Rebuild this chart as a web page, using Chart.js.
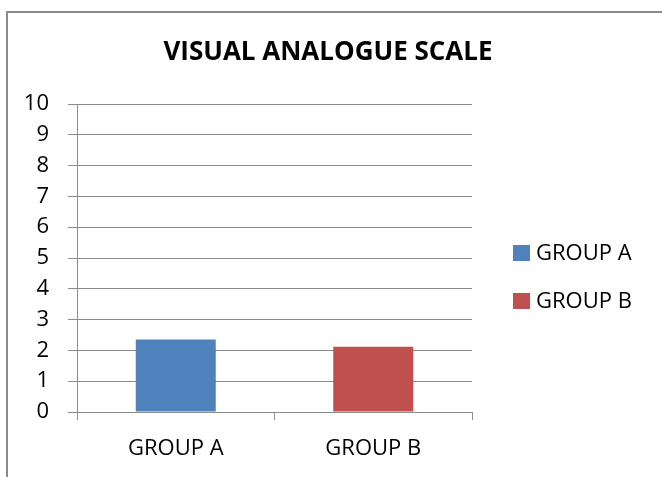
<!DOCTYPE html>
<html>
<head>
<meta charset="utf-8">
<script src="https://cdn.jsdelivr.net/npm/chart.js@4"></script>
<style>
  html, body { margin: 0; padding: 0; background: #fff; }
  #wrap { position: relative; width: 662px; height: 477px; overflow: hidden; }
  #frame { position: absolute; left: 6px; top: 11px; width: 700px; height: 500px;
           border-left: 2px solid #8a8a8a; border-top: 2px solid #8a8a8a; pointer-events: none; }
  canvas { position: absolute; left: 0; top: 0; }
</style>
</head>
<body>
<div id="wrap">
  <canvas id="c" width="662" height="477"></canvas>
  <div id="frame"></div>
</div>
<script>
const titleText = "VISUAL ANALOGUE SCALE";
const categories = ["GROUP A", "GROUP B"];
const vasValues = [2.35, 2.12];
const barColors = ["#4F81BD", "#C0504D"];
const yTicks = [0, 1, 2, 3, 4, 5, 6, 7, 8, 9, 10];

const FONT = "'Open Sans', sans-serif";
const GRID = "#8c8c8c";

const decorPlugin = {
  id: "decor",
  afterDraw(chart) {
    const ctx = chart.ctx;
    const ds = chart.data.datasets[0];
    ctx.save();
    // title
    ctx.font = "bold 26px " + FONT;
    ctx.textBaseline = "middle";
    ctx.textAlign = "center";
    ctx.fillStyle = "#000";
    ctx.fillText(chart.options.plugins.decor.title, 328, 53);
    // legend
    ctx.font = "22px " + FONT;
    ctx.textAlign = "left";
    chart.data.labels.forEach((lab, i) => {
      const cy = 253 + i * 48;
      ctx.fillStyle = ds.backgroundColor[i];
      ctx.fillRect(513, cy - 8, 17, 16);
      ctx.fillStyle = "#000";
      ctx.fillText(lab, 536, cy + 1);
    });
    ctx.restore();
  }
};

new Chart(document.getElementById("c"), {
  type: "bar",
  data: {
    labels: categories,
    datasets: [{
      label: titleText,
      data: vasValues,
      backgroundColor: barColors,
      borderWidth: 0,
      categoryPercentage: 1,
      barPercentage: 0.405
    }]
  },
  options: {
    responsive: false,
    animation: false,
    devicePixelRatio: 1,
    layout: { padding: { left: 0, right: 190, top: 104, bottom: 0 } },
    plugins: {
      legend: { display: false },
      tooltip: { enabled: false },
      title: { display: false },
      decor: { title: titleText }
    },
    scales: {
      x: {
        offset: true,
        grid: { offset: true, drawOnChartArea: false, drawTicks: true, tickLength: 8, color: GRID, lineWidth: 1 },
        border: { display: true, color: GRID, width: 1 },
        ticks: { color: "#000", font: { family: FONT, size: 22 }, padding: 16, maxRotation: 0 },
        afterFit(scale) { scale.height = 65; }
      },
      y: {
        min: 0,
        max: 10,
        afterBuildTicks(scale) { scale.ticks = yTicks.map(v => ({ value: v })); },
        grid: { drawTicks: true, tickLength: 9, color: GRID, lineWidth: 1 },
        border: { display: true, color: GRID, width: 1 },
        ticks: { color: "#000", font: { family: FONT, size: 22 }, padding: 19 },
        afterFit(scale) { scale.width = 77; }
      }
    }
  },
  plugins: [decorPlugin]
});
</script>
</body>
</html>
